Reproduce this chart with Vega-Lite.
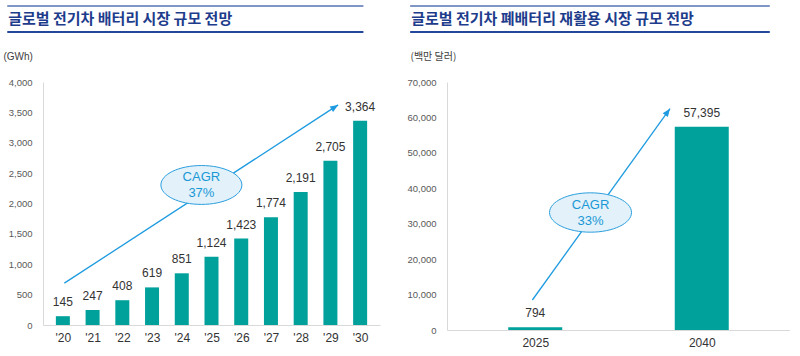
{
  "$schema": "https://vega.github.io/schema/vega-lite/v6.json",
  "background": "white",
  "padding": {"left": 3, "top": 4, "right": 0, "bottom": 0},
  "spacing": 26,
  "config": {"view": {"stroke": null}, "font": "Liberation Sans"},
  "hconcat": [
    {
      "width": 337,
      "height": 243,
      "resolve": {"axis": {"x": "independent", "y": "independent"}},
      "layer": [
        {
          "data": {"values": [
            {"year": 2020, "value": 145}, {"year": 2021, "value": 247}, {"year": 2022, "value": 408},
            {"year": 2023, "value": 619}, {"year": 2024, "value": 851}, {"year": 2025, "value": 1124},
            {"year": 2026, "value": 1423}, {"year": 2027, "value": 1774}, {"year": 2028, "value": 2191},
            {"year": 2029, "value": 2705}, {"year": 2030, "value": 3364}
          ]},
          "mark": {"type": "bar", "size": 14, "color": "#00A19B"},
          "encoding": {
            "x": {"field": "year", "type": "quantitative",
              "scale": {"domain": [2019.5, 2030.5], "nice": false, "zero": false},
              "axis": {"values": [2020, 2021, 2022, 2023, 2024, 2025, 2026, 2027, 2028, 2029, 2030],
                "labelExpr": "\"'\" + slice(toString(datum.value), 2)", "title": null, "grid": false, "ticks": false, "labelOverlap": false,
                "domainColor": "#d9d9d9", "labelPadding": 7, "labelFontSize": 12, "labelColor": "#333333", "labelFont": "Liberation Sans"}},
            "y": {"field": "value", "type": "quantitative",
              "scale": {"domain": [0, 4000], "nice": false},
              "axis": {"values": [0, 500, 1000, 1500, 2000, 2500, 3000, 3500, 4000], "format": ",.0f", "labelOverlap": false,
                "grid": false, "ticks": false, "domainColor": "#d9d9d9", "labelPadding": 11,
                "labelFontSize": 9.5, "labelColor": "#595959",
                "title": "(GWh)", "titleAngle": 0, "titleAlign": "left", "titleBaseline": "middle",
                "titleX": -40, "titleY": -26, "titleFontSize": 10, "titleFontWeight": "normal", "titleColor": "#404040", "titleFont": "Liberation Sans"}}
          }
        },
        {
          "data": {"values": [
            {"year": 2020, "value": 145}, {"year": 2021, "value": 247}, {"year": 2022, "value": 408},
            {"year": 2023, "value": 619}, {"year": 2024, "value": 851}, {"year": 2025, "value": 1124},
            {"year": 2026, "value": 1423}, {"year": 2027, "value": 1774}, {"year": 2028, "value": 2191},
            {"year": 2029, "value": 2705}, {"year": 2030, "value": 3364}
          ]},
          "mark": {"type": "text", "baseline": "middle", "dy": -14, "fontSize": 12, "color": "#333333"},
          "encoding": {
            "x": {"field": "year", "type": "quantitative", "axis": null},
            "y": {"field": "value", "type": "quantitative", "axis": null},
            "text": {"field": "value", "type": "quantitative", "format": ","}
          }
        },
        {
          "data": {"values": [{"x": 2020.05, "y": 689, "x2": 2029.26, "y2": 3623}]},
          "mark": {"type": "rule", "color": "#1E9BE0", "strokeWidth": 1.3},
          "encoding": {
            "x": {"field": "x", "type": "quantitative", "axis": null}, "x2": {"field": "x2"},
            "y": {"field": "y", "type": "quantitative", "axis": null}, "y2": {"field": "y2"}
          }
        },
        {
          "data": {"values": [{"x": 2029.26, "y": 3623}]},
          "mark": {"type": "point", "shape": "M0,0L-1,-0.4L-1,0.4Z", "size": 256, "filled": true, "opacity": 1, "color": "#1E9BE0", "angle": 327.6},
          "encoding": {"x": {"field": "x", "type": "quantitative", "axis": null}, "y": {"field": "y", "type": "quantitative", "axis": null}}
        },
        {
          "data": {"values": [{"x": 2024.66, "y": 2305}]},
          "mark": {"type": "point", "shape": "M-1,0A1,0.48,0,1,0,1,0A1,0.48,0,1,0,-1,0Z", "size": 6561, "filled": true, "opacity": 1, "fill": "#E2F1FA", "stroke": "#2A9FDE", "strokeWidth": 1},
          "encoding": {"x": {"field": "x", "type": "quantitative", "axis": null}, "y": {"field": "y", "type": "quantitative", "axis": null}}
        },
        {
          "data": {"values": [{"x": 2024.66, "y": 2305, "label": "CAGR\n37%"}]},
          "mark": {"type": "text", "lineBreak": "\n", "lineHeight": 16, "fontSize": 13, "color": "#1A98D5", "baseline": "middle", "dy": -8},
          "encoding": {"x": {"field": "x", "type": "quantitative", "axis": null}, "y": {"field": "y", "type": "quantitative", "axis": null}, "text": {"field": "label"}}
        },
        {
          "data": {"values": [{"x": 2018.13, "x2": 2030.11, "y": 5251}]},
          "mark": {"type": "rule", "color": "#7E95C6", "strokeWidth": 2},
          "encoding": {"x": {"field": "x", "type": "quantitative", "axis": null}, "x2": {"field": "x2"}, "y": {"field": "y", "type": "quantitative", "axis": null}}
        },
        {
          "data": {"values": [{"x": 2018.13, "x2": 2030.11, "y": 4823}]},
          "mark": {"type": "rule", "color": "#23479A", "strokeWidth": 2},
          "encoding": {"x": {"field": "x", "type": "quantitative", "axis": null}, "x2": {"field": "x2"}, "y": {"field": "y", "type": "quantitative", "axis": null}}
        },
        {
          "data": {"values": [{"x": 2018.16, "y": 5037, "title": "글로벌 전기차 배터리 시장 규모 전망"}]},
          "mark": {"type": "text", "align": "left", "baseline": "middle", "font": "Noto Sans CJK KR", "fontWeight": "bold", "fontSize": 15, "color": "#1E3C8C"},
          "encoding": {"x": {"field": "x", "type": "quantitative", "axis": null}, "y": {"field": "y", "type": "quantitative", "axis": null}, "text": {"field": "title"}}
        }
      ]
    },
    {
      "width": 343,
      "height": 248,
      "resolve": {"axis": {"x": "independent", "y": "independent"}},
      "layer": [
        {
          "data": {"values": [{"year": 2025, "value": 794}, {"year": 2040, "value": 57395}]},
          "mark": {"type": "bar", "size": 54, "color": "#00A19B"},
          "encoding": {
            "x": {"field": "year", "type": "quantitative",
              "scale": {"domain": [2017.5, 2047.5], "nice": false, "zero": false},
              "axis": {"values": [2025, 2040], "format": "d", "title": null, "grid": false, "ticks": false, "labelOverlap": false,
                "domainColor": "#d9d9d9", "labelPadding": 7, "labelFontSize": 12, "labelColor": "#333333"}},
            "y": {"field": "value", "type": "quantitative",
              "scale": {"domain": [0, 70000], "nice": false},
              "axis": {"values": [0, 10000, 20000, 30000, 40000, 50000, 60000, 70000], "format": ",.0f", "labelOverlap": false,
                "grid": false, "ticks": false, "domainColor": "#d9d9d9", "labelPadding": 11,
                "labelFontSize": 9.5, "labelColor": "#595959",
                "title": "(백만 달러)", "titleAngle": 0, "titleAlign": "left", "titleBaseline": "middle",
                "titleX": -37, "titleY": -26, "titleFontSize": 10, "titleFontWeight": "normal", "titleColor": "#404040", "titleFont": "Noto Sans CJK KR"}}
          }
        },
        {
          "data": {"values": [{"year": 2025, "value": 794}, {"year": 2040, "value": 57395}]},
          "mark": {"type": "text", "baseline": "middle", "dy": -14, "fontSize": 12, "color": "#333333"},
          "encoding": {
            "x": {"field": "year", "type": "quantitative", "axis": null},
            "y": {"field": "value", "type": "quantitative", "axis": null},
            "text": {"field": "value", "type": "quantitative", "format": ","}
          }
        },
        {
          "data": {"values": [{"x": 2024.74, "y": 8468, "x2": 2037.14, "y2": 62463}]},
          "mark": {"type": "rule", "color": "#1E9BE0", "strokeWidth": 1.3},
          "encoding": {
            "x": {"field": "x", "type": "quantitative", "axis": null}, "x2": {"field": "x2"},
            "y": {"field": "y", "type": "quantitative", "axis": null}, "y2": {"field": "y2"}
          }
        },
        {
          "data": {"values": [{"x": 2037.14, "y": 62463}]},
          "mark": {"type": "point", "shape": "M0,0L-1,-0.4L-1,0.4Z", "size": 256, "filled": true, "opacity": 1, "color": "#1E9BE0", "angle": 306.5},
          "encoding": {"x": {"field": "x", "type": "quantitative", "axis": null}, "y": {"field": "y", "type": "quantitative", "axis": null}}
        },
        {
          "data": {"values": [{"x": 2029.98, "y": 33165}]},
          "mark": {"type": "point", "shape": "M-1,0A1,0.48,0,1,0,1,0A1,0.48,0,1,0,-1,0Z", "size": 6724, "filled": true, "opacity": 1, "fill": "#E2F1FA", "stroke": "#2A9FDE", "strokeWidth": 1},
          "encoding": {"x": {"field": "x", "type": "quantitative", "axis": null}, "y": {"field": "y", "type": "quantitative", "axis": null}}
        },
        {
          "data": {"values": [{"x": 2029.98, "y": 33165, "label": "CAGR\n33%"}]},
          "mark": {"type": "text", "lineBreak": "\n", "lineHeight": 16, "fontSize": 13, "color": "#1A98D5", "baseline": "middle", "dy": -8},
          "encoding": {"x": {"field": "x", "type": "quantitative", "axis": null}, "y": {"field": "y", "type": "quantitative", "axis": null}, "text": {"field": "label"}}
        },
        {
          "data": {"values": [{"x": 2013.73, "x2": 2046.13, "y": 91452}]},
          "mark": {"type": "rule", "color": "#7E95C6", "strokeWidth": 2},
          "encoding": {"x": {"field": "x", "type": "quantitative", "axis": null}, "x2": {"field": "x2"}, "y": {"field": "y", "type": "quantitative", "axis": null}}
        },
        {
          "data": {"values": [{"x": 2013.73, "x2": 2046.13, "y": 84113}]},
          "mark": {"type": "rule", "color": "#23479A", "strokeWidth": 2},
          "encoding": {"x": {"field": "x", "type": "quantitative", "axis": null}, "x2": {"field": "x2"}, "y": {"field": "y", "type": "quantitative", "axis": null}}
        },
        {
          "data": {"values": [{"x": 2013.82, "y": 87782, "title": "글로벌 전기차 폐배터리 재활용 시장 규모 전망"}]},
          "mark": {"type": "text", "align": "left", "baseline": "middle", "font": "Noto Sans CJK KR", "fontWeight": "bold", "fontSize": 15, "color": "#1E3C8C"},
          "encoding": {"x": {"field": "x", "type": "quantitative", "axis": null}, "y": {"field": "y", "type": "quantitative", "axis": null}, "text": {"field": "title"}}
        }
      ]
    }
  ]
}
